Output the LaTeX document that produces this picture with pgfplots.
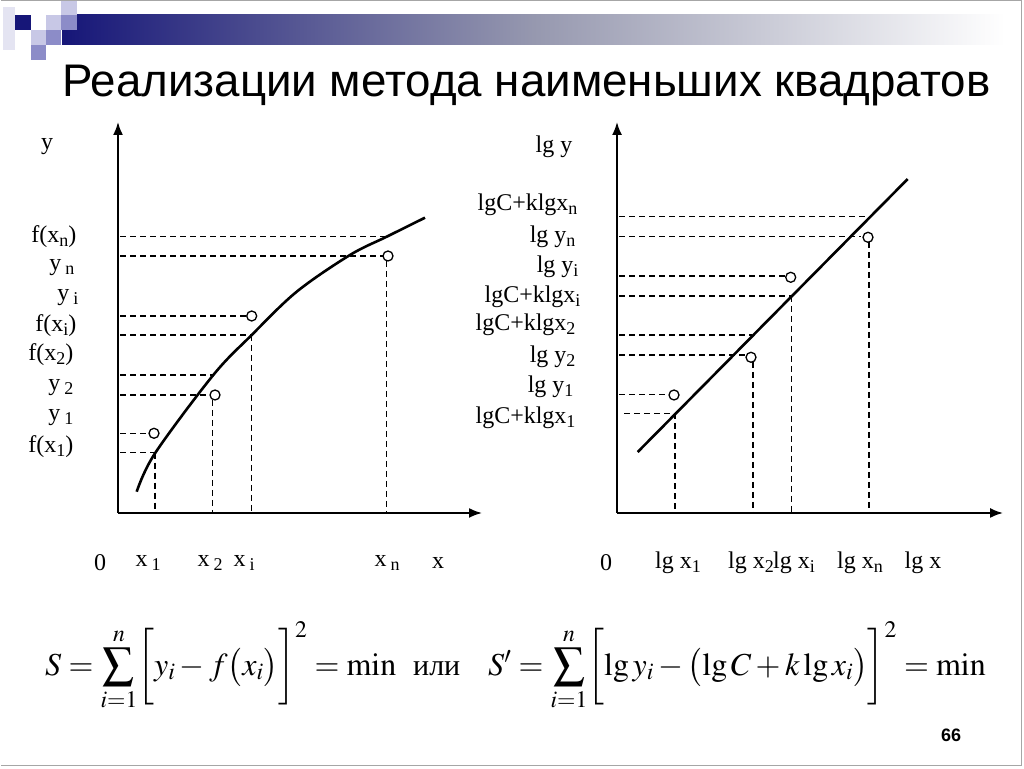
\documentclass[border=0pt]{standalone}
\usepackage{mathptmx}
\usepackage{fontspec}
\setmainfont{Liberation Serif}
\newfontfamily\arial{Liberation Sans}
\usepackage{graphicx}
\usepackage{pgfplots}
\pgfplotsset{compat=1.18}
\usetikzlibrary{arrows.meta}
\definecolor{navy}{RGB}{22,22,120}
\definecolor{lavm}{RGB}{140,140,200}
\definecolor{lavl}{RGB}{200,200,230}
\definecolor{lavp}{RGB}{228,228,242}
\definecolor{gmid}{RGB}{150,152,175}
\newcommand\sub[1]{\raisebox{-0.3ex}{\fontsize{18}{18}\selectfont #1}}
\newcommand\lab{\fontsize{24}{26}\selectfont}
\newcommand\bigsum{\mathop{\vcenter{\hbox{\scalebox{1.4}{$\sum$}}}}\limits}
\pgfplotsset{
  sch/.style={scale only axis, anchor=south west, enlargelimits=false,
    axis lines=left, axis line style={line width=1.8pt, -{Latex[length=13pt,width=10pt]}},
    xtick=\empty, ytick=\empty, clip=false},
  dsh/.style={line width=1.3pt, dash pattern=on 6pt off 4pt, forget plot},
  pt/.style={only marks, mark=o, mark size=5pt, mark options={line width=1.3pt}},
}
\begin{document}
\begin{tikzpicture}[x=1pt,y=1pt]
\path[use as bounding box, fill=white] (0,0) rectangle (1024,768);
% header decoration
\shade[left color=navy, right color=white, middle color=gmid] (62,{768-45}) rectangle (1005,{768-15});
\fill[lavp] (3,{768-50}) rectangle (15,{768-7});
\fill[navy] (15.3,{768-30}) rectangle (30.6,{768-15});
\fill[lavl] (46,{768-30}) rectangle (61.3,{768-15});
\fill[lavl] (61.3,{768-15}) rectangle (76.6,{768-1.5});
\fill[lavm] (61.3,{768-30}) rectangle (76.6,{768-15});
\fill[lavl] (30.6,{768-45}) rectangle (46,{768-30});
\fill[lavm] (46,{768-45}) rectangle (61.3,{768-30});
\fill[lavm] (30.6,{768-60}) rectangle (46,{768-45});
\draw[gray!70, line width=1pt] (1,{768-1}) -- (1021,{768-1}) -- (1021,{768-765}) -- (1,{768-765});
% title
\node[anchor=base west, inner sep=0] at (62,{768-97}) {\arial\fontsize{45.7}{50}\selectfont Реализации метода наименьших квадратов};

% left chart
\begin{axis}[sch, at={(118,255)}, width=364pt, height=391pt, xmin=0, xmax=364, ymin=0, ymax=391]
\addplot[line width=2.6pt, smooth, tension=0.55] coordinates {(18.7,21.3) (37,59.7) (95.3,138) (133.7,178) (178.7,221.3) (232,258) (268.7,276.3) (307,295.3)};
\addplot[dsh] coordinates {(2,276.3) (268.7,276.3)};
\addplot[dsh] coordinates {(2,257) (265,257)};
\addplot[dsh] coordinates {(268.7,252) (268.7,0)};
\addplot[dsh] coordinates {(2,197) (128,197)};
\addplot[dsh] coordinates {(2,178) (133.7,178)};
\addplot[dsh] coordinates {(133.7,178) (133.7,0)};
\addplot[dsh] coordinates {(2,138) (94.7,138)};
\addplot[dsh] coordinates {(2,118) (92,118)};
\addplot[dsh] coordinates {(94.7,113) (94.7,0)};
\addplot[dsh] coordinates {(2,79.7) (32,79.7)};
\addplot[dsh] coordinates {(2,60.3) (37,60.3)};
\addplot[dsh] coordinates {(37,60.3) (37,0)};
\addplot[pt] coordinates {(270,257) (133.7,197) (97,118) (36,79.7)};
\end{axis}

% right chart
\begin{axis}[sch, at={(617,255)}, width=386pt, height=391pt, xmin=0, xmax=386, ymin=0, ymax=391]
\addplot[line width=2.6pt] coordinates {(20.7,61) (290.7,334)};
\addplot[dsh] coordinates {(2,296.3) (251,296.3)};
\addplot[dsh] coordinates {(2,276.3) (244,276.3)};
\addplot[dsh] coordinates {(252,271) (252,0)};
\addplot[dsh] coordinates {(2,237) (168,237)};
\addplot[dsh] coordinates {(2,217) (174.8,217)};
\addplot[dsh] coordinates {(174.8,217) (174.8,0)};
\addplot[dsh] coordinates {(2,178) (135,178)};
\addplot[dsh] coordinates {(136,151) (136,0)};
\addplot[dsh] coordinates {(2,158) (128,158)};
\addplot[dsh] coordinates {(2,118.7) (52,118.7)};
\addplot[dsh] coordinates {(7,99.7) (58,99.7)};
\addplot[dsh] coordinates {(58,99.7) (58,0)};
\addplot[pt] coordinates {(251,275.7) (173.7,235.7) (134,155.7) (57,118)};
\end{axis}

% left labels
\node at (47,{768-147}) {\lab y};
\node[anchor=east] at (80,{768-237}) {\lab f(x\sub{n})};
\node[anchor=east] at (78,{768-268}) {\lab y\,\sub{n}};
\node[anchor=east] at (82,{768-298}) {\lab y\,\sub{i}};
\node[anchor=east] at (80,{768-326}) {\lab f(x\sub{i})};
\node[anchor=east] at (77,{768-355}) {\lab f(x\sub{2})};
\node[anchor=east] at (77,{768-388}) {\lab y\,\sub{2}};
\node[anchor=east] at (77,{768-418}) {\lab y\,\sub{1}};
\node[anchor=east] at (77,{768-447}) {\lab f(x\sub{1})};
\node at (100,{768-563}) {\lab 0};
\node at (148,{768-563}) {\lab x\,\sub{1}};
\node at (210,{768-563}) {\lab x\,\sub{2}};
\node at (244,{768-563}) {\lab x\,\sub{i}};
\node at (387,{768-563}) {\lab x\,\sub{n}};
\node at (438,{768-563}) {\lab x};
% right labels
\node at (554,{768-147}) {\lab lg y};
\node[anchor=east] at (581,{768-205}) {\lab lgC+klgx\sub{n}};
\node[anchor=east] at (579,{768-237}) {\lab lg y\sub{n}};
\node[anchor=east] at (582,{768-267}) {\lab lg y\sub{i}};
\node[anchor=east] at (584,{768-297}) {\lab lgC+klgx\sub{i}};
\node[anchor=east] at (579,{768-325}) {\lab lgC+klgx\sub{2}};
\node[anchor=east] at (579,{768-357}) {\lab lg y\sub{2}};
\node[anchor=east] at (577,{768-387}) {\lab lg y\sub{1}};
\node[anchor=east] at (579,{768-418}) {\lab lgC+klgx\sub{1}};
\node at (606,{768-563}) {\lab 0};
\node at (678,{768-563}) {\lab lg x\sub{1}};
\node at (751,{768-563}) {\lab lg x\sub{2}};
\node at (794,{768-563}) {\lab lg x\sub{i}};
\node at (860,{768-563}) {\lab lg x\sub{n}};
\node at (923,{768-563}) {\lab lg x};

% formulas
\node[anchor=base west, inner sep=0] at (45,{768-675}) {\fontsize{32}{40}\selectfont $S=\bigsum_{i=1}^{n}\biggl[y_i-f\bigl(x_i\bigr)\biggr]^2=\min$};
\node[anchor=base west, inner sep=0] at (413,{768-675}) {\fontsize{30}{36}\selectfont или};
\node[anchor=base west, inner sep=0] at (488,{768-675}) {\fontsize{32}{40}\selectfont $S'=\bigsum_{i=1}^{n}\biggl[\lg y_i-\bigl(\lg C+k\lg x_i\bigr)\biggr]^2=\min$};
\node at (951,{768-735.5}) {\arial\bfseries\fontsize{18}{20}\selectfont 66};
\end{tikzpicture}
\end{document}
